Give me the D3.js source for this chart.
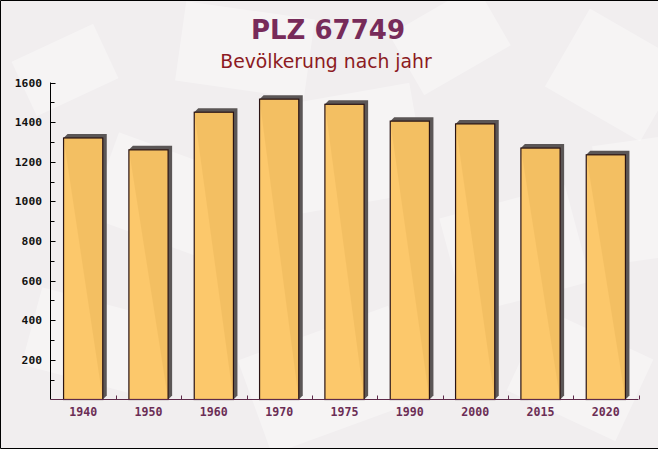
<!DOCTYPE html>
<html>
<head>
<meta charset="utf-8">
<script src="https://cdn.jsdelivr.net/npm/d3@7"></script>
<style>
  html, body { margin: 0; padding: 0; background: #f2eff0; }
  svg { display: block; }
</style>
</head>
<body>
<svg id="chart" width="658" height="449"></svg>
<script>
const years = ["1940", "1950", "1960", "1970", "1975", "1990", "2000", "2015", "2020"];
const population = [1320, 1260, 1450, 1516, 1490, 1405, 1391, 1269, 1235];
const yTicks = [200, 400, 600, 800, 1000, 1200, 1400, 1600];
const yMinorTicks = [100, 300, 500, 700, 900, 1100, 1300, 1500];
const titleText = "PLZ 67749";
const subtitleText = "Bevölkerung nach jahr";

const W = 658, H = 449;
const svg = d3.select("#chart");

// background
svg.append("rect").attr("width", W).attr("height", H).attr("fill", "#f1eeef");
const deco = svg.append("g").attr("fill", "#ffffff");
const shapes = [
  [20, 40, 90, 60, -25], [180, 10, 130, 80, 8], [400, 5, 100, 70, -30], [560, 30, 110, 90, 30],
  [270, 95, 150, 110, -10], [100, 150, 120, 90, 20], [450, 200, 130, 100, -15],
  [30, 300, 110, 80, 15], [250, 330, 160, 100, -20], [520, 330, 120, 90, 25], [600, 140, 80, 120, -8]
];
shapes.forEach(s => {
  deco.append("rect").attr("x", s[0]).attr("y", s[1]).attr("width", s[2]).attr("height", s[3])
    .attr("transform", `rotate(${s[4]},${s[0] + s[2] / 2},${s[1] + s[3] / 2})`)
    .attr("opacity", 0.35);
});

// border
svg.append("path").attr("d", `M${W},0.5H0.5V${H - 0.5}H${W}`).attr("fill", "none").attr("stroke", "#000").attr("stroke-width", 1);

// titles
svg.append("text").attr("x", 328).attr("y", 39).attr("text-anchor", "middle")
  .attr("font-family", "DejaVu Sans").attr("font-weight", "bold").attr("font-size", 26)
  .attr("fill", "#772b5a").text(titleText);
svg.append("text").attr("x", 326).attr("y", 68).attr("text-anchor", "middle")
  .attr("font-family", "DejaVu Sans").attr("font-size", 18.8)
  .attr("fill", "#8c1a22").text(subtitleText);

// scales
const x = d3.scaleBand().domain(years).range([50.5, 638.5]).paddingInner(0.4).paddingOuter(0.2);
const y = d3.scaleLinear().domain([0, 1600]).range([399.5, 82.5]);

// bars with 3D shadow
const data = years.map((yr, i) => ({ yr, v: population[i] }));
const bars = svg.append("g");
const d = 4;
bars.selectAll("path.shadow").data(data).enter().append("path")
  .attr("class", "shadow")
  .attr("d", p => {
    const x0 = x(p.yr), x1 = x0 + x.bandwidth(), yt = y(p.v), yb = y(0);
    return `M${x0},${yt}L${x0 + d},${yt - d}L${x1 + d},${yt - d}L${x1 + d},${yb - d}L${x1},${yb}Z`;
  })
  .attr("fill", "#5b5656");
bars.selectAll("rect.bar").data(data).enter().append("rect")
  .attr("class", "bar")
  .attr("x", p => x(p.yr))
  .attr("y", p => y(p.v))
  .attr("width", x.bandwidth())
  .attr("height", p => y(0) - y(p.v))
  .attr("fill", "#fcc563")
  .attr("fill-opacity", 0.95)
  .attr("stroke", "#2a1414")
  .attr("stroke-width", 1.2);

// y axis
const yAxis = svg.append("g").attr("transform", "translate(50.5,0)");
yAxis.append("line").attr("x1", 0).attr("x2", 0).attr("y1", y(1600)).attr("y2", y(0)).attr("stroke", "#000");
yAxis.selectAll("line.maj").data(yTicks).enter().append("line")
  .attr("x1", 0).attr("x2", 5).attr("y1", v => Math.round(y(v)) + 0.5).attr("y2", v => Math.round(y(v)) + 0.5).attr("stroke", "#000");
yAxis.selectAll("line.min").data(yMinorTicks).enter().append("line")
  .attr("x1", 0).attr("x2", 4).attr("y1", v => Math.round(y(v)) + 0.5).attr("y2", v => Math.round(y(v)) + 0.5).attr("stroke", "#000");
yAxis.selectAll("text").data(yTicks).enter().append("text")
  .attr("x", -8.5).attr("y", v => y(v)).attr("dy", "0.36em").attr("text-anchor", "end")
  .attr("font-family", "DejaVu Sans Mono").attr("font-weight", "bold").attr("font-size", 11.3)
  .attr("fill", "#111").text(v => v);

// x axis
const xg = svg.append("g").attr("transform", "translate(0,399.5)");
xg.append("line").attr("x1", 50.5).attr("x2", 638.5).attr("y1", 0).attr("y2", 0).attr("stroke", "#5e2a4a");
const step = x.step();
xg.selectAll("line.tk").data(years).enter().append("line")
  .attr("x1", yr => Math.round(x(yr) + x.bandwidth() + (step - x.bandwidth()) / 2) + 0.5)
  .attr("x2", yr => Math.round(x(yr) + x.bandwidth() + (step - x.bandwidth()) / 2) + 0.5)
  .attr("y1", 0).attr("y2", -4).attr("stroke", "#5e2a4a");
xg.selectAll("text").data(years).enter().append("text")
  .attr("x", yr => x(yr) + x.bandwidth() / 2).attr("y", 16).attr("text-anchor", "middle")
  .attr("font-family", "DejaVu Sans Mono").attr("font-weight", "bold").attr("font-size", 11.6)
  .attr("fill", "#6b2d55").text(yr => yr);
</script>
</body>
</html>
